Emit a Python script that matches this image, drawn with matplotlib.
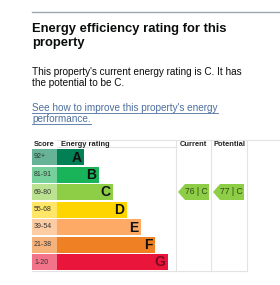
import matplotlib.pyplot as plt
from matplotlib.patches import Rectangle, Polygon

plt.rcParams['font.family'] = ['Liberation Sans', 'DejaVu Sans']

bands = ['A', 'B', 'C', 'D', 'E', 'F', 'G']
score_ranges = ['92+', '81-91', '69-80', '55-68', '39-54', '21-38', '1-20']
bar_colors = ['#008054', '#19b459', '#8dce46', '#ffd500', '#fcaa65', '#ef8023', '#e9153b']
score_colors = ['#66b398', '#75d09b', '#bbe290', '#ffe666', '#fdcca3', '#f5b37b', '#f2738a']
bar_lengths = [27, 42, 56, 70, 84, 98, 111]
letter_colors = ['#111111'] * 6 + ['#7a0a22']

current_score, current_band = 76, 'C'
potential_score, potential_band = 77, 'C'

fig = plt.figure(figsize=(2.8, 2.85), dpi=100)
ax = fig.add_axes([0, 0, 1, 1])
ax.set_xlim(0, 280)
ax.set_ylim(285, 0)
ax.axis('off')

# top rule and heading
ax.plot([32, 280], [12, 12], color='#9aa8b2', lw=1.0)
ax.text(32, 29, 'Energy efficiency rating for this', fontsize=9.4, weight='bold',
        va='center', color='#0b0c0c')
ax.text(32, 43, 'property', fontsize=9.4, weight='bold', va='center', color='#0b0c0c')
ax.text(32, 72, "This property's current energy rating is C. It has", fontsize=7.2,
        va='center', color='#0b0c0c')
ax.text(32, 83, 'the potential to be C.', fontsize=7.2, va='center', color='#0b0c0c')

link_color = '#4c6f9e'
renderer = fig.canvas.get_renderer()
for y, line in [(108, "See how to improve this property's energy"), (119, 'performance.')]:
    t = ax.text(32, y, line, fontsize=7.2, va='center', color=link_color)
    bb = t.get_window_extent(renderer).transformed(ax.transData.inverted())
    ax.plot([bb.x0, bb.x1], [y + 4.5, y + 4.5], color=link_color, lw=0.6)

# table frame
grid = '#e3e3e3'
ax.plot([57, 280], [140, 140], color=grid, lw=0.8)
ax.plot([57, 176], [147, 147], color=grid, lw=0.8)
for x in [176, 211, 247]:
    ax.plot([x, x], [140, 271], color=grid, lw=0.8)
ax.plot([32, 247], [271, 271], color=grid, lw=0.8)

hdr = dict(fontsize=5.4, weight='bold', va='center', color='#222222')
ax.text(34, 145, 'Score', **hdr)
ax.text(61, 145, 'Energy rating', **hdr)
ax.text(193.5, 145, 'Current', ha='center', **hdr)
ax.text(229, 145, 'Potential', ha='center', **hdr)

row_top, pitch, row_h = 149, 17.5, 16
for i, band in enumerate(bands):
    y = row_top + i * pitch
    ax.add_patch(Rectangle((32, y), 25, row_h, color=score_colors[i], lw=0))
    ax.text(34, y + row_h / 2, score_ranges[i], fontsize=5.0, va='center', color='#333333')
    ax.add_patch(Rectangle((57, y), bar_lengths[i], row_h, color=bar_colors[i], lw=0))
    ax.text(57 + bar_lengths[i] - 2.5, y + row_h / 2 + 0.5, band, fontsize=10, weight='bold',
            va='center', ha='right', color=letter_colors[i])


def arrow(x0, score, band):
    i = bands.index(band)
    y = row_top + i * pitch
    col = bar_colors[i]
    pts = [(x0, y + row_h / 2), (x0 + 7, y), (x0 + 31, y), (x0 + 31, y + row_h), (x0 + 7, y + row_h)]
    ax.add_patch(Polygon(pts, closed=True, color=col, lw=0))
    ax.text(x0 + 18, y + row_h / 2, f'{score} | {band}', fontsize=6.2, va='center',
            ha='center', color='#2e4a14')


arrow(178, current_score, current_band)
arrow(213, potential_score, potential_band)

fig.savefig('out.png', dpi=100)
